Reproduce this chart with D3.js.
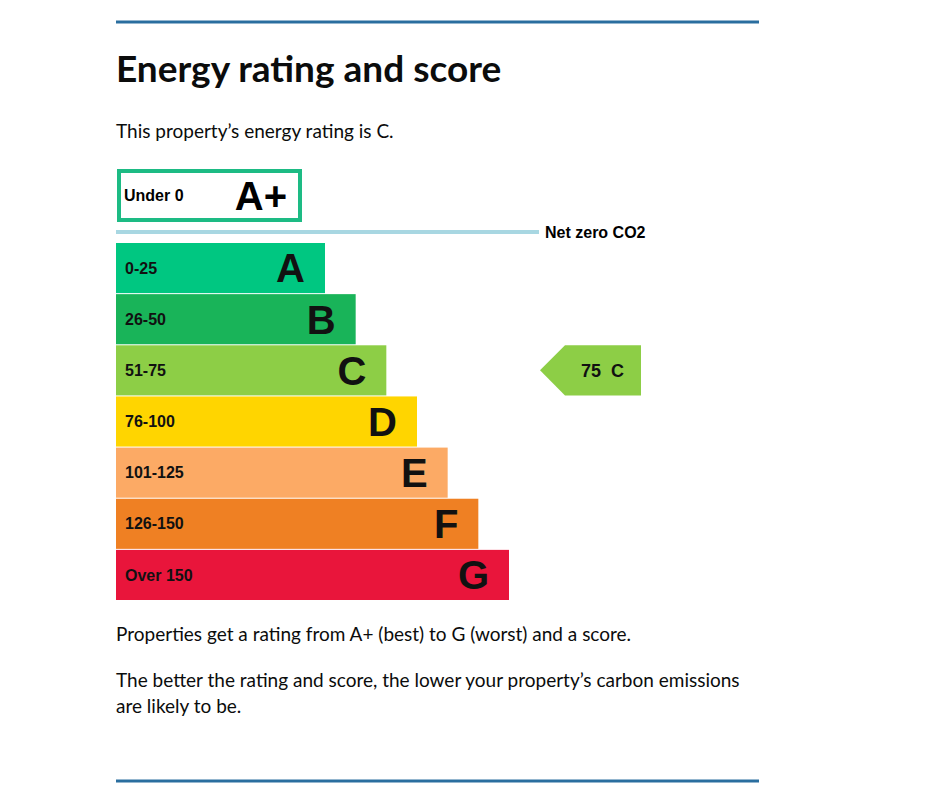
<!DOCTYPE html>
<meta charset="utf-8">
<script src="https://d3js.org/d3.v7.min.js"></script>
<style>
  body { margin: 0; background: #fff; }
</style>
<div id="my_dataviz"></div>
<script>

    // rating bands, best to worst
    const ratings = ["A", "B", "C", "D", "E", "F", "G"];
    const ranges = ["0-25", "26-50", "51-75", "76-100", "101-125", "126-150", "Over 150"];
    const colours = ["#00c781", "#19b459", "#8dce46", "#ffd500", "#fcaa65", "#ef8023", "#e9153b"];

    // the extra band above the net zero line
    const topRating = "A+";
    const topRange = "Under 0";

    // this property
    const currentScore = 75;
    const currentRating = "C";

    const title = "Energy rating and score";
    const intro = "This property\u2019s energy rating is C.";
    const notes = [
      ["Properties get a rating from A+ (best) to G (worst) and a score."],
      ["The better the rating and score, the lower your property\u2019s carbon emissions", "are likely to be."]
    ];

    const width = 945, height = 798;
    const left = 116, right = 759;
    const bodyFont = "Lato, 'Noto Sans', sans-serif";
    const chartFont = "'Liberation Sans', Arial, sans-serif";

    const svg = d3.select("#my_dataviz")
      .append("svg")
        .attr("width", width)
        .attr("height", height);

    // blue rules top and bottom
    svg.selectAll(".rule")
      .data([22, 781])
      .join("line")
        .attr("x1", left)
        .attr("x2", right)
        .attr("y1", d => d)
        .attr("y2", d => d)
        .attr("stroke", "#2a6e9f")
        .attr("stroke-width", 3);

    svg.append("text")
        .attr("x", left)
        .attr("y", 82)
        .style("font-family", bodyFont)
        .style("font-weight", "bold")
        .style("font-size", "37px")
        .style("fill", "#0b0c0c")
        .text(title);

    svg.append("text")
        .attr("x", left)
        .attr("y", 138)
        .style("font-family", bodyFont)
        .style("font-size", "19px")
        .style("fill", "#0b0c0c")
        .text(intro);

    // scales for the bars
    const y = d3.scaleBand()
      .domain(ratings)
      .range([243, 600])
      .paddingInner(0.02);

    const w = d3.scaleLinear()
      .domain([0, ratings.length - 1])
      .range([209, 393]);

    // A+ box
    const topY = 171, topH = 49, topW = 181;
    svg.append("rect")
        .attr("x", left + 3)
        .attr("y", topY)
        .attr("width", topW)
        .attr("height", topH)
        .attr("fill", "#fff")
        .attr("stroke", "#1dbb84")
        .attr("stroke-width", 4);
    svg.append("text")
        .attr("x", 124)
        .attr("y", topY + topH / 2)
        .attr("dy", "0.35em")
        .style("font-family", chartFont)
        .style("font-weight", "bold")
        .style("font-size", "16px")
        .text(topRange);
    svg.append("text")
        .attr("x", left + 3 + topW - 13)
        .attr("y", topY + topH / 2)
        .attr("dy", "0.36em")
        .attr("text-anchor", "end")
        .style("font-family", chartFont)
        .style("font-weight", "bold")
        .style("font-size", "40px")
        .text(topRating);

    // net zero line
    svg.append("line")
        .attr("x1", left)
        .attr("x2", 539)
        .attr("y1", 232)
        .attr("y2", 232)
        .attr("stroke", "#a8d7e2")
        .attr("stroke-width", 4);
    svg.append("text")
        .attr("x", 545)
        .attr("y", 232)
        .attr("dy", "0.35em")
        .style("font-family", chartFont)
        .style("font-weight", "bold")
        .style("font-size", "16px")
        .text("Net zero CO2");

    // rating bars
    const bars = svg.selectAll(".band")
      .data(ratings)
      .join("g")
        .attr("class", "band")
        .attr("transform", d => `translate(${left}, ${y(d)})`);

    bars.append("rect")
        .attr("width", (d, i) => w(i))
        .attr("height", y.bandwidth())
        .attr("fill", (d, i) => colours[i]);

    bars.append("text")
        .attr("x", 9)
        .attr("y", y.bandwidth() / 2)
        .attr("dy", "0.35em")
        .style("font-family", chartFont)
        .style("font-weight", "bold")
        .style("font-size", "16px")
        .style("fill", "#111")
        .text((d, i) => ranges[i]);

    bars.append("text")
        .attr("x", (d, i) => w(i) - 20)
        .attr("y", y.bandwidth() / 2)
        .attr("dy", "0.36em")
        .attr("text-anchor", "end")
        .style("font-family", chartFont)
        .style("font-weight", "bold")
        .style("font-size", "40px")
        .style("fill", "#111")
        .text(d => d);

    // current rating arrow
    const ci = ratings.indexOf(currentRating);
    const ay = y(currentRating), ah = y.bandwidth();
    const ax = 540, tip = 25, aw = 101;
    svg.append("path")
        .attr("d", d3.line()([
          [ax, ay + ah / 2], [ax + tip, ay], [ax + aw, ay],
          [ax + aw, ay + ah], [ax + tip, ay + ah]
        ]) + "Z")
        .attr("fill", colours[ci]);
    svg.append("text")
        .attr("x", 581)
        .attr("y", ay + ah / 2)
        .attr("dy", "0.35em")
        .style("font-family", chartFont)
        .style("font-weight", "bold")
        .style("font-size", "18px")
        .style("fill", "#111")
        .style("white-space", "pre")
        .attr("xml:space", "preserve")
        .text(`${currentScore}  ${currentRating}`);

    // notes under the chart
    const noteY = [641, 687];
    notes.forEach((lines, k) => {
      const t = svg.append("text")
          .attr("x", left)
          .attr("y", noteY[k])
          .style("font-family", bodyFont)
          .style("font-size", "19px")
          .style("fill", "#0b0c0c");
      t.selectAll("tspan")
        .data(lines)
        .join("tspan")
          .attr("x", left)
          .attr("dy", (d, i) => i ? 26 : 0)
          .text(d => d);
    });

</script>
